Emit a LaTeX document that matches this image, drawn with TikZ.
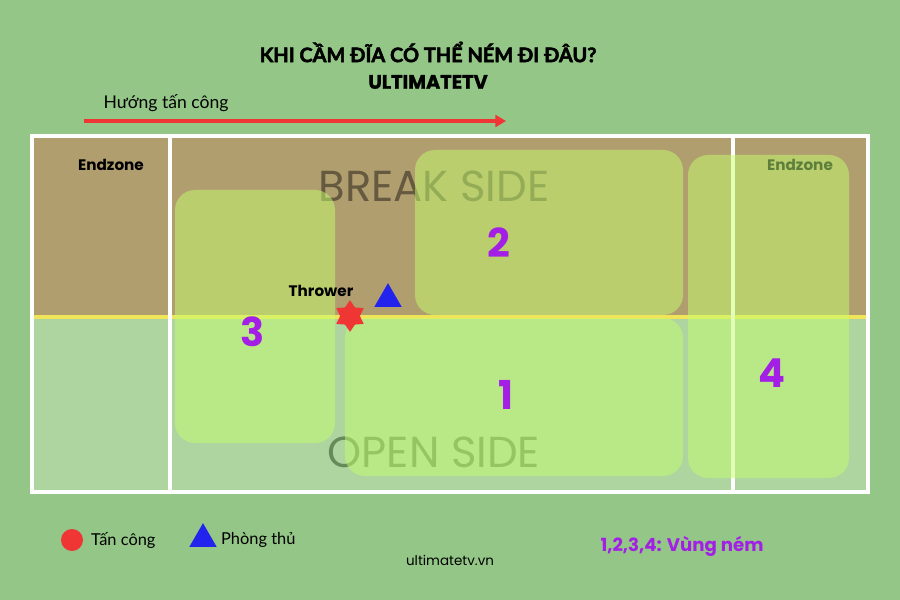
\documentclass[tikz,border=0pt]{standalone}
\usepackage{fontspec}
\setmainfont{Poppins}
\newfontfamily\vnfont{Lato}
\newfontfamily\vntitle{Lato}[BoldFeatures={FakeBold=2.5}]
\newfontfamily\brandfont{Poppins}[BoldFeatures={FakeBold=1.5}]
\usetikzlibrary{shapes.geometric,arrows.meta}
\definecolor{bggreen}{HTML}{93C687}
\definecolor{breaktan}{HTML}{B09E6F}
\definecolor{opengreen}{HTML}{AED4A0}
\definecolor{zonegreen}{HTML}{C4FF6D}
\definecolor{midyellow}{HTML}{F0E458}
\definecolor{zonepurple}{HTML}{A31FE6}
\definecolor{attackred}{HTML}{F03535}
\definecolor{defblue}{HTML}{2323EE}
\definecolor{breaktext}{HTML}{655A40}
\definecolor{opentext}{HTML}{668A5A}
\definecolor{endgreen}{HTML}{5E7F3C}
\begin{document}
\begin{tikzpicture}[x=0.03cm,y=-0.03cm,
  zone/.style={fill=zonegreen, fill opacity=0.5, rounded corners=0.6cm},
  num/.style={text=zonepurple, font=\fontsize{34}{34}\selectfont\bfseries},
  side/.style={font=\fontsize{37}{37}\selectfont},
  fieldline/.style={draw=white, line width=2.6pt},
  endlabel/.style={font=\fontsize{13}{13}\selectfont\bfseries},
  legendtext/.style={font=\fontsize{14}{14}\selectfont\vnfont, anchor=west},
  attacker/.style={fill=attackred, circle, inner sep=0pt, minimum size=0.66cm},
  defender/.style={fill=defblue, regular polygon, regular polygon sides=3, inner sep=0pt, minimum size=0.95cm}
]
  \fill[bggreen] (0,0) rectangle (900,600);
  \useasboundingbox (0,0) rectangle (900,600);

  \node[font=\fontsize{17}{17}\selectfont\vntitle\bfseries] (title) at (428,52) {KHI CẦM ĐĨA CÓ THỂ NÉM ĐI ĐÂU?};
  \node[font=\fontsize{16.5}{16.5}\selectfont\brandfont\bfseries] (brand) at (428,82) {ULTIMATETV};

  \node[font=\fontsize{15}{15}\selectfont\vnfont] (direction) at (166,103) {Hướng tấn công};
  \coordinate (arrowstart) at (84,121);
  \coordinate (arrowend) at (506,121);
  \draw[attackred, line width=2.6pt, -{Triangle[length=9pt,width=10pt]}] (arrowstart) -- (arrowend);

  \fill[breaktan] (32,136) rectangle (868,317);
  \fill[opengreen] (32,317) rectangle (868,492);
  \node[side, text=breaktext] (breakside) at (434,186) {BREAK SIDE};
  \node[side, text=opentext] (openside) at (434,452) {OPEN SIDE};
  \draw[midyellow, line width=2.8pt] (32,317) -- (868,317);
  \draw[fieldline] (32,136) rectangle (868,492);
  \draw[fieldline] (170,136) -- (170,492);
  \draw[fieldline] (733,136) -- (733,492);

  \fill[zone] (175,190) rectangle (335,443);
  \fill[zone] (415,150) rectangle (683,315);
  \fill[zone] (345,318) rectangle (683,476);
  \fill[zone] (688,155) rectangle (849,478);

  \node[num] (zone3) at (253,332) {3};
  \node[num] (zone2) at (499,243) {2};
  \node[num] (zone1) at (506,395) {1};
  \node[num] (zone4) at (772,373) {4};

  \node[endlabel] (leftend) at (111,165) {Endzone};
  \node[endlabel, text=endgreen] (rightend) at (800,165) {Endzone};

  \node[endlabel] (throwerlabel) at (321,291) {Thrower};
  \node[star, star points=6, star point ratio=1.6, fill=attackred, inner sep=0pt, minimum size=0.95cm] (thrower) at (350,316) {};
  \node[defender] (mark) at (388,299) {};

  \node[attacker] (attackkey) at (72,540) {};
  \node[legendtext] (attacktext) at (87,540) {Tấn công};
  \node[defender] (defkey) at (203,539) {};
  \node[legendtext] (deftext) at (217,540) {Phòng thủ};
  \node[font=\fontsize{15.5}{15.5}\selectfont\bfseries, text=zonepurple] (zonekey) at (682,546) {1,2,3,4: Vùng ném};
  \node[font=\fontsize{11.5}{11.5}\selectfont] (site) at (450,560) {ultimatetv.vn};
\end{tikzpicture}
\end{document}
